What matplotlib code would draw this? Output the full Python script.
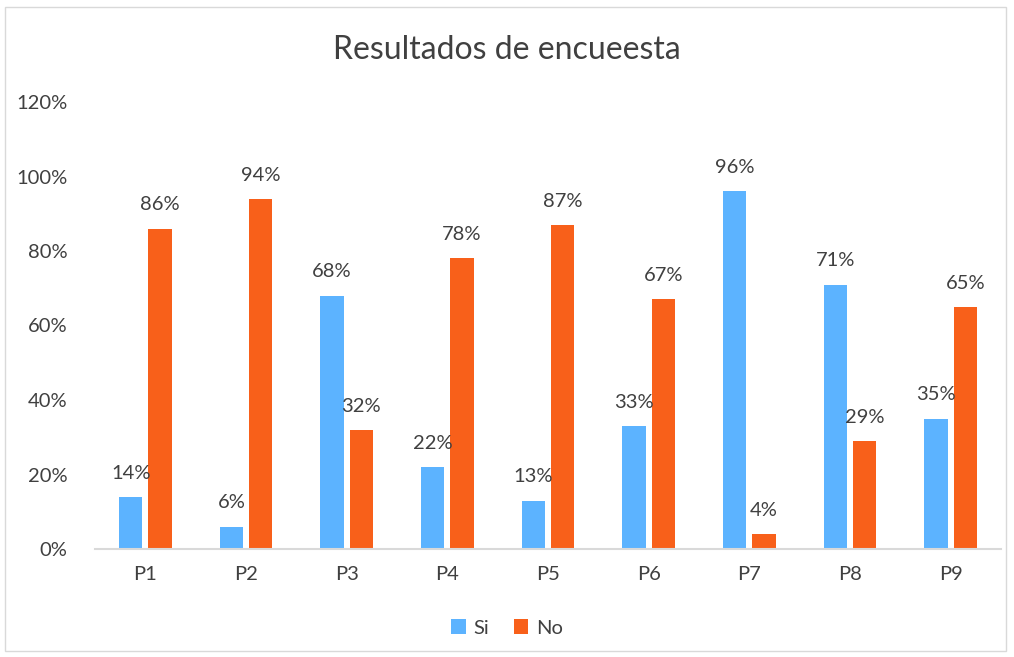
import numpy as np
import matplotlib.pyplot as plt
from matplotlib.patches import Rectangle

# Survey data
categories = ['P1', 'P2', 'P3', 'P4', 'P5', 'P6', 'P7', 'P8', 'P9']
si_values = [0.14, 0.06, 0.68, 0.22, 0.13, 0.33, 0.96, 0.71, 0.35]
no_values = [0.86, 0.94, 0.32, 0.78, 0.87, 0.67, 0.04, 0.29, 0.65]

si_color = '#5CB3FF'
no_color = '#F8601A'
text_color = '#404040'

plt.rcParams['font.family'] = ['Lato', 'DejaVu Sans']

fig = plt.figure(figsize=(10.14, 6.57), dpi=100)
ax = fig.add_axes([95 / 1014, 1 - 549 / 657, 906 / 1014, (549 - 102) / 657])

# outer chart border like the Excel chart area
fig.patches.append(Rectangle((5 / 1014, 6 / 657), 1001 / 1014, 644 / 657,
                             transform=fig.transFigure, fill=False,
                             edgecolor='#D9D9D9', linewidth=1))

x = np.arange(len(categories))
width = 0.23
offset = 0.145

bars_si = ax.bar(x - offset, si_values, width, color=si_color, label='Si')
bars_no = ax.bar(x + offset, no_values, width, color=no_color, label='No')

for bars in (bars_si, bars_no):
    for b in bars:
        h = b.get_height()
        ax.annotate(f'{h:.0%}', (b.get_x() + b.get_width() / 2, h),
                    xytext=(0, 11), textcoords='offset points',
                    ha='center', va='bottom', fontsize=14.5, color=text_color)

ax.set_xlim(-0.5, len(categories) - 0.5)
ax.set_ylim(0, 1.2)
ax.set_yticks(np.arange(0, 1.21, 0.2))
ax.set_yticklabels([f'{int(round(v * 100))}%' for v in np.arange(0, 1.21, 0.2)])
ax.set_xticks(x)
ax.set_xticklabels(categories)
ax.tick_params(axis='both', length=0, labelsize=14.5, colors=text_color)
ax.tick_params(axis='y', pad=20)
ax.tick_params(axis='x', pad=12)

for side in ['top', 'right', 'left']:
    ax.spines[side].set_visible(False)
ax.spines['bottom'].set_color('#D9D9D9')
ax.spines['bottom'].set_linewidth(1.5)

fig.text(0.5, 1 - 50 / 657, 'Resultados de encueesta', ha='center', va='center',
         fontsize=23, color=text_color)

fig.legend(loc='center', bbox_to_anchor=(0.5, 1 - 628 / 657), ncol=2,
           frameon=False, fontsize=14.5, handlelength=0.7, handleheight=0.7,
           handletextpad=0.4, columnspacing=1.2, labelcolor=text_color)

fig.savefig('out.png', dpi=100, facecolor='white')
